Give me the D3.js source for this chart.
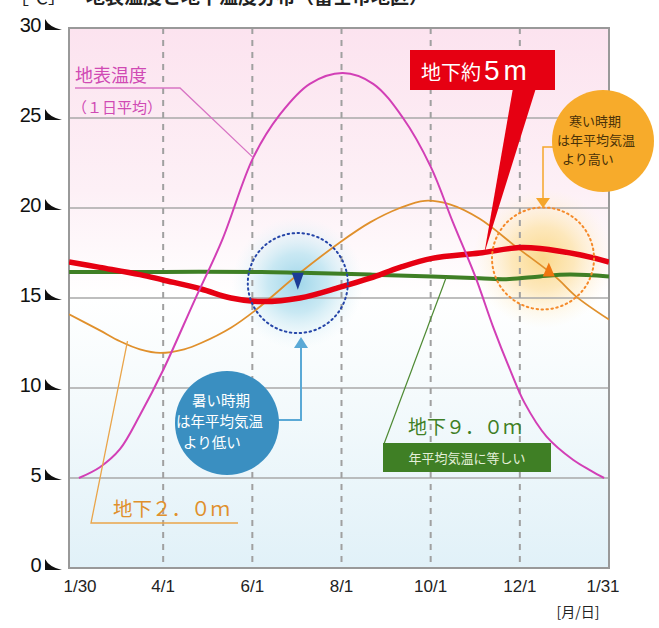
<!DOCTYPE html>
<html><head><meta charset="utf-8">
<script src="https://cdn.jsdelivr.net/npm/d3@7"></script>
<style>body{margin:0;background:#fff}svg{display:block}</style>
</head><body>
<svg id="c" width="659" height="628"></svg>
<script>
// ---- data (x in "months since 1/30", 2 units per tick interval; y in °C) ----
const xTicks = [0, 2, 4, 6, 8, 10, 12];
const xTickLabels = ["1/30", "4/1", "6/1", "8/1", "10/1", "12/1", "1/31"];
const yTicks = [0, 5, 10, 15, 20, 25, 30];
const yTickLabels = ["0", "5", "10", "15", "20", "25", "30"];

const surfaceT = [0.11, 0.58, 1.03, 1.48, 2.0, 2.71, 3.32, 4.02, 4.62, 5.29, 6.03, 6.71, 7.38, 8.0, 8.5, 9.0, 9.4, 9.8, 10.1, 10.6, 11.2, 11.6, 11.89];
const surfaceV = [5.0, 5.6, 6.6, 8.5, 11.0, 14.9, 18.2, 22.8, 25.2, 26.9, 27.5, 26.9, 25.0, 22.3, 19.2, 16.2, 13.4, 10.9, 9.2, 7.3, 6.0, 5.4, 5.0];

const depth2T = [-0.11, 0.58, 1.03, 1.48, 1.93, 2.47, 2.85, 3.52, 4.06, 5.07, 5.97, 6.64, 7.31, 7.87, 8.43, 9.1, 9.94, 10.79, 11.28, 12.0];
const depth2V = [14.1, 13.2, 12.6, 12.15, 11.95, 12.15, 12.5, 13.35, 14.3, 16.4, 18.1, 19.2, 20.0, 20.4, 20.2, 19.4, 17.8, 16.2, 15.05, 13.8];

const depth5T = [-0.11, 0.58, 1.48, 2.0, 2.85, 3.52, 4.2, 5.07, 5.97, 6.64, 7.31, 8.03, 9.1, 9.99, 10.45, 11.34, 12.0];
const depth5V = [17.0, 16.7, 16.3, 16.0, 15.5, 15.0, 14.8, 15.0, 15.6, 16.1, 16.7, 17.2, 17.5, 17.8, 17.75, 17.4, 17.0];

const depth9T = [-0.11, 2.0, 4.2, 5.07, 6.64, 8.03, 9.1, 9.77, 10.45, 11.12, 12.0];
const depth9V = [16.45, 16.45, 16.45, 16.4, 16.3, 16.2, 16.1, 16.05, 16.2, 16.3, 16.2];

// ---- layout ----
const svg = d3.select("#c");
const plotL = 69, plotR = 609;
const x = d3.scaleLinear().domain([0, 12]).range([74, 609]);
const y = d3.scaleLinear().domain([0, 30]).range([568, 28]);
const JP = "'Noto Sans CJK JP','Noto Sans',sans-serif";
const NUM = "'Liberation Sans',Arial,sans-serif";

const defs = svg.append("defs");
const bg = defs.append("linearGradient").attr("id", "bg").attr("x1", 0).attr("y1", 0).attr("x2", 0).attr("y2", 1);
[[0, "#fce3ef"], [0.3, "#fdf0f6"], [0.5, "#ffffff"], [0.62, "#f8fcfd"], [1, "#e1f1f8"]].forEach(s => bg.append("stop").attr("offset", s[0]).attr("stop-color", s[1]));
const gB = defs.append("radialGradient").attr("id", "glowB");
[[0, "#9fd6ea", 1], [0.45, "#c3e6f2", 0.9], [1, "#e6f4f9", 0]].forEach(s => gB.append("stop").attr("offset", s[0]).attr("stop-color", s[1]).attr("stop-opacity", s[2]));
const gO = defs.append("radialGradient").attr("id", "glowO");
[[0, "#fbd98c", 1], [0.45, "#fde6b5", 0.9], [1, "#fff4dc", 0]].forEach(s => gO.append("stop").attr("offset", s[0]).attr("stop-color", s[1]).attr("stop-opacity", s[2]));
defs.append("clipPath").attr("id", "clip").append("rect").attr("x", plotL).attr("y", y(30)).attr("width", plotR - plotL).attr("height", y(0) - y(30));

// title (clipped at top in the reference)
svg.append("text").attr("x", 10).attr("y", 4).attr("font-family", JP).attr("font-size", 19).attr("fill", "#222").text("［℃］");
svg.append("text").attr("x", 86).attr("y", 4).attr("font-family", JP).attr("font-size", 19).attr("font-weight", "bold").attr("fill", "#222").text("地表温度と地下温度分布（富士市地区）");

// plot background
svg.append("rect").attr("x", plotL).attr("y", y(30)).attr("width", plotR - plotL).attr("height", y(0) - y(30)).attr("fill", "url(#bg)");

// glows
const blueSpot = {t: 5.02, v: 15.83}, orangeSpot = {t: 10.52, v: 17.2};
const gl = svg.append("g").attr("clip-path", "url(#clip)");
gl.append("circle").attr("cx", x(blueSpot.t)).attr("cy", y(blueSpot.v)).attr("r", 66).attr("fill", "url(#glowB)");
gl.append("circle").attr("cx", x(orangeSpot.t)).attr("cy", y(orangeSpot.v)).attr("r", 70).attr("fill", "url(#glowO)");

// grid
svg.append("g").selectAll("line").data(yTicks.filter(d => d > 0 && d < 30)).join("line")
  .attr("x1", plotL).attr("x2", plotR).attr("y1", d => y(d)).attr("y2", d => y(d))
  .attr("stroke", "#a8a8a8").attr("stroke-width", 1.5);
svg.append("g").selectAll("line").data(xTicks.filter(d => d > 0 && d < 12)).join("line")
  .attr("x1", d => x(d)).attr("x2", d => x(d)).attr("y1", y(30)).attr("y2", y(0))
  .attr("stroke", "#a0a0a0").attr("stroke-width", 2).attr("stroke-dasharray", "6,6");

// plot frame
svg.append("rect").attr("x", plotL).attr("y", y(30)).attr("width", plotR - plotL).attr("height", y(0) - y(30))
  .attr("fill", "none").attr("stroke", "#999").attr("stroke-width", 2);

// y axis labels + triangle ticks
const ya = svg.append("g");
yTicks.forEach((d, i) => {
  const yy = y(d);
  ya.append("text").attr("x", 41).attr("y", yy + 4).attr("text-anchor", "end").attr("font-family", NUM)
    .attr("font-size", 20).attr("letter-spacing", -0.5).attr("fill", "#111").text(yTickLabels[i]);
  ya.append("path").attr("d", `M45,${yy - 9} Q49,${yy - 1} 62,${yy + 2} L45,${yy + 2} Z`).attr("fill", "#111");
});

// x axis labels
const xa = svg.append("g");
xTicks.forEach((d, i) => {
  const dx = i === 0 ? 6 : (i === xTicks.length - 1 ? -6 : 0);
  xa.append("text").attr("x", x(d) + dx).attr("y", 592).attr("text-anchor", "middle").attr("font-family", NUM)
    .attr("font-size", 17).attr("fill", "#222").text(xTickLabels[i]);
});
svg.append("text").attr("x", 578).attr("y", 617).attr("text-anchor", "middle").attr("font-family", JP)
  .attr("font-size", 14).attr("fill", "#222").text("[月/日]");

// lines
const line = d3.line().x(d => x(d[0])).y(d => y(d[1])).curve(d3.curveCatmullRom.alpha(0.5));
const lg = svg.append("g").attr("clip-path", "url(#clip)");
const zip = (a, b) => a.map((t, i) => [t, b[i]]);
lg.append("path").attr("d", line(zip(depth2T, depth2V))).attr("fill", "none").attr("stroke", "#e0902c").attr("stroke-width", 1.8);
lg.append("path").attr("d", line(zip(depth9T, depth9V))).attr("fill", "none").attr("stroke", "#3f7f25").attr("stroke-width", 4);
lg.append("path").attr("d", line(zip(depth5T, depth5V))).attr("fill", "none").attr("stroke", "#e60012").attr("stroke-width", 5.5);
lg.append("path").attr("d", line(zip(surfaceT, surfaceV))).attr("fill", "none").attr("stroke", "#d23fb6").attr("stroke-width", 2);

// dotted circles + markers
svg.append("circle").attr("cx", x(blueSpot.t)).attr("cy", y(blueSpot.v)).attr("r", 50).attr("fill", "none")
  .attr("stroke", "#2545a8").attr("stroke-width", 2).attr("stroke-dasharray", "1.5,3.5").attr("stroke-linecap", "round");
svg.append("circle").attr("cx", x(orangeSpot.t)).attr("cy", y(orangeSpot.v)).attr("r", 51).attr("fill", "none")
  .attr("stroke", "#f58a2a").attr("stroke-width", 2).attr("stroke-dasharray", "1.5,3.5").attr("stroke-linecap", "round");
{
  const bx = x(5.02), by = y(16.4);
  svg.append("path").attr("d", `M${bx - 6},${by} L${bx + 6},${by} L${bx},${by + 17} Z`).attr("fill", "#1b3c96");
  const ox = x(10.65), oy = y(16.2);
  svg.append("path").attr("d", `M${ox - 6},${oy} L${ox + 6},${oy} L${ox},${oy - 14} Z`).attr("fill", "#f07510");
}

// --- annotations ---
// surface label
svg.append("text").attr("x", 75).attr("y", 82).attr("font-family", JP).attr("font-size", 18).attr("fill", "#d04ab4").text("地表温度");
svg.append("text").attr("x", 72).attr("y", 113).attr("font-family", JP).attr("font-size", 15).attr("fill", "#d04ab4").text("（１日平均）");
svg.append("path").attr("d", `M75,88 L180,88 L${x(4.02)},${y(22.8)}`).attr("fill", "none").attr("stroke", "#d874c4").attr("stroke-width", 1.3);

// red 5m label
{
  const tx = x(9.2), ty = y(17.45);
  svg.append("path").attr("d", `M513,88 L536,88 L${tx},${ty} Z`).attr("fill", "#e60012");
  svg.append("rect").attr("x", 410).attr("y", 50).attr("width", 145).attr("height", 40).attr("fill", "#e60012");
  const t = svg.append("text").attr("x", 421).attr("y", 80).attr("font-family", JP).attr("fill", "#fff");
  t.append("tspan").attr("font-size", 20).text("地下約");
  t.append("tspan").attr("font-size", 28).attr("dx", 3).attr("font-family", NUM).attr("letter-spacing", 4).text("5m");
}

// orange bubble
{
  svg.append("path").attr("d", `M556,147 L543,147 L543,200`).attr("fill", "none").attr("stroke", "#f5a62b").attr("stroke-width", 1.5);
  svg.append("path").attr("d", `M536,198 L550,198 L543,208 Z`).attr("fill", "#f5a62b");
  svg.append("circle").attr("cx", 603).attr("cy", 141).attr("r", 51).attr("fill", "#f7ab2b");
  const lines = [["寒い時期", 569, 126], ["は年平均気温", 557, 145], ["より高い", 562, 164]];
  lines.forEach(l => svg.append("text").attr("x", l[1]).attr("y", l[2]).attr("font-family", JP).attr("font-size", 13).attr("fill", "#4a3208").text(l[0]));
}

// blue bubble
{
  svg.append("path").attr("d", `M276,420 L301,420 L301,346`).attr("fill", "none").attr("stroke", "#5aa9d6").attr("stroke-width", 2);
  svg.append("path").attr("d", `M294,348 L308,348 L301,337 Z`).attr("fill", "#5aa9d6");
  svg.append("circle").attr("cx", 227).attr("cy", 423).attr("r", 52).attr("fill", "#3a8fc1");
  const lines = [["暑い時期", 192, 406], ["は年平均気温", 176, 427], ["より低い", 183, 448]];
  lines.forEach(l => svg.append("text").attr("x", l[1]).attr("y", l[2]).attr("font-family", JP).attr("font-size", 14.5).attr("fill", "#fff").text(l[0]));
}

// green 9m label
{
  svg.append("line").attr("x1", 384).attr("y1", 444).attr("x2", x(8.35)).attr("y2", y(16.15)).attr("stroke", "#4e8a33").attr("stroke-width", 1.2);
  svg.append("text").attr("x", 408).attr("y", 434).attr("font-family", JP).attr("font-size", 19).attr("fill", "#3f7f25").text("地下９．０ｍ");
  svg.append("rect").attr("x", 383).attr("y", 443).attr("width", 168).attr("height", 29).attr("fill", "#3f7f25");
  svg.append("text").attr("x", 467).attr("y", 463).attr("text-anchor", "middle").attr("font-family", JP).attr("font-size", 13).attr("fill", "#e4efd9").text("年平均気温に等しい");
}

// orange 2m label
{
  svg.append("path").attr("d", `M${x(1.2)},${y(12.6)} L91,523 L238,523`).attr("fill", "none").attr("stroke", "#eaa54a").attr("stroke-width", 1.3);
  svg.append("text").attr("x", 113).attr("y", 516).attr("font-family", JP).attr("font-size", 19.5).attr("fill", "#e0902c").text("地下２．０ｍ");
}
</script>
</body></html>
